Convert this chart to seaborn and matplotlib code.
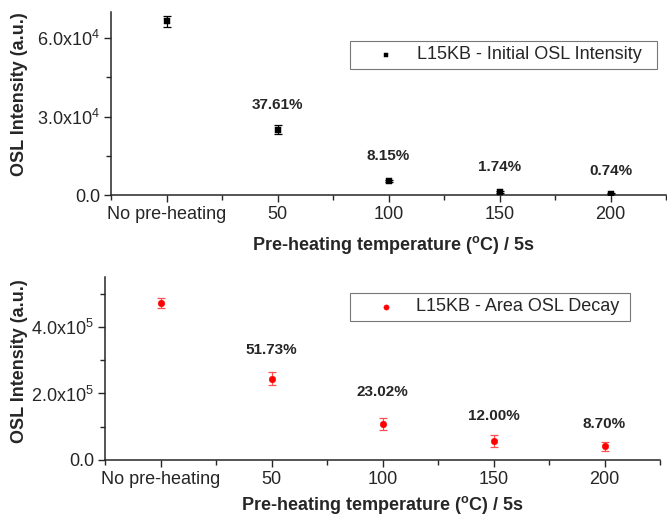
import numpy as np
import pandas as pd
import matplotlib
matplotlib.use("Agg")
import matplotlib.pyplot as plt
import seaborn as sns
from matplotlib.ticker import FixedLocator, MultipleLocator, FuncFormatter

# Datos
categorias = ["No pre-heating", "50", "100", "150", "200"]
posiciones = [0, 1, 2, 3, 4]

inicial = [66400, 24970, 5410, 1155, 490]
inicial_err = [2200, 1700, 450, 300, 200]
inicial_pct = ["", "37.61%", "8.15%", "1.74%", "0.74%"]

area = [472000, 244000, 108600, 56600, 41000]
area_err = [16000, 19500, 19000, 18500, 13500]
area_pct = ["", "51.73%", "23.02%", "12.00%", "8.70%"]

sns.set_style("ticks")
plt.rcParams["font.family"] = ["Liberation Sans", "DejaVu Sans"]
plt.rcParams["mathtext.fontset"] = "custom"
plt.rcParams["mathtext.rm"] = "Liberation Sans"
plt.rcParams["mathtext.default"] = "regular"


def formato(v, pos):
    if v == 0:
        return "0.0"
    exp = int(np.floor(np.log10(abs(v))))
    return "%.1fx10$^{%d}$" % (v / 10 ** exp, exp)


df_ini = pd.DataFrame({"x": posiciones, "y": inicial})
df_area = pd.DataFrame({"x": posiciones, "y": area})

fig = plt.figure(figsize=(6.67, 5.15), dpi=100)
ax1 = fig.add_axes([111 / 667, 1 - 195 / 515, 555 / 667, 183 / 515])
ax2 = fig.add_axes([105 / 667, 1 - 460 / 515, 555 / 667, 183 / 515])

# Panel superior
ax1.errorbar(posiciones, inicial, yerr=inicial_err, fmt="none", ecolor="black",
             elinewidth=0.9, capsize=3, capthick=0.9, zorder=2)
sns.scatterplot(data=df_ini, x="x", y="y", marker="s", color="black", s=16,
                edgecolor="black", label="L15KB - Initial OSL Intensity  ", ax=ax1, zorder=3)
offs1 = [0, 18, 18, 18, 16]
for i, t in enumerate(inicial_pct):
    if t:
        ax1.annotate(t, xy=(posiciones[i], inicial[i]), xytext=(0, offs1[i]), textcoords="offset points",
                     ha="center", va="center", fontsize=11, fontweight="bold")
ax1.set_ylim(0, 70000)
ax1.yaxis.set_major_locator(MultipleLocator(30000))
ax1.yaxis.set_minor_locator(MultipleLocator(15000))

# Panel inferior
ax2.errorbar(posiciones, area, yerr=area_err, fmt="none", ecolor="#ff5050",
             elinewidth=0.9, capsize=3, capthick=0.9, zorder=2)
sns.scatterplot(data=df_area, x="x", y="y", marker="o", color="red", s=22,
                edgecolor="red", label="L15KB - Area OSL Decay ", ax=ax2, zorder=3)
offs2 = [0, 21, 23, 18, 16]
for i, t in enumerate(area_pct):
    if t:
        ax2.annotate(t, xy=(posiciones[i], area[i]), xytext=(0, offs2[i]), textcoords="offset points",
                     ha="center", va="center", fontsize=11, fontweight="bold")
ax2.set_ylim(0, 550000)
ax2.yaxis.set_major_locator(MultipleLocator(200000))
ax2.yaxis.set_minor_locator(MultipleLocator(100000))

anclas = [(0.984, 0.8415), (0.946, 0.9126)]
ylab_pos = [((20 - 111) / 555, 0.552), ((20 - 105) / 555, 0.541)]
xlab_pos = [(0.508, (195 - 245) / 183), (0.499, (460 - 505) / 183)]

for k, ax in enumerate((ax1, ax2)):
    ax.set_xlim(-0.5, 4.5)
    ax.xaxis.set_major_locator(FixedLocator(posiciones))
    ax.xaxis.set_minor_locator(FixedLocator([p - 0.5 for p in posiciones] + [4.5]))
    ax.set_xticklabels(categorias)
    ax.yaxis.set_major_formatter(FuncFormatter(formato))
    ax.tick_params(which="major", direction="out", length=5, width=1, labelsize=13, pad=3)
    ax.tick_params(which="minor", direction="out", length=3.5, width=1)
    for s in ("left", "bottom"):
        ax.spines[s].set_linewidth(1.1)
    sns.despine(ax=ax)
    ax.set_ylabel("OSL Intensity (a.u.)", fontsize=13, fontweight="bold", va="center")
    ax.set_xlabel("Pre-heating temperature ($^{o}$C) / 5s", fontsize=13, fontweight="bold", va="center")
    ax.yaxis.set_label_coords(*ylab_pos[k])
    ax.xaxis.set_label_coords(*xlab_pos[k])
    leg = ax.legend(loc="upper right", bbox_to_anchor=anclas[k], borderaxespad=0,
                    fontsize=13, frameon=True, fancybox=False, edgecolor="#555555",
                    handlelength=3.4, handletextpad=0.0, borderpad=0.3, markerscale=0.8)
    leg.get_frame().set_linewidth(0.8)

fig.savefig("out.png", dpi=100)
